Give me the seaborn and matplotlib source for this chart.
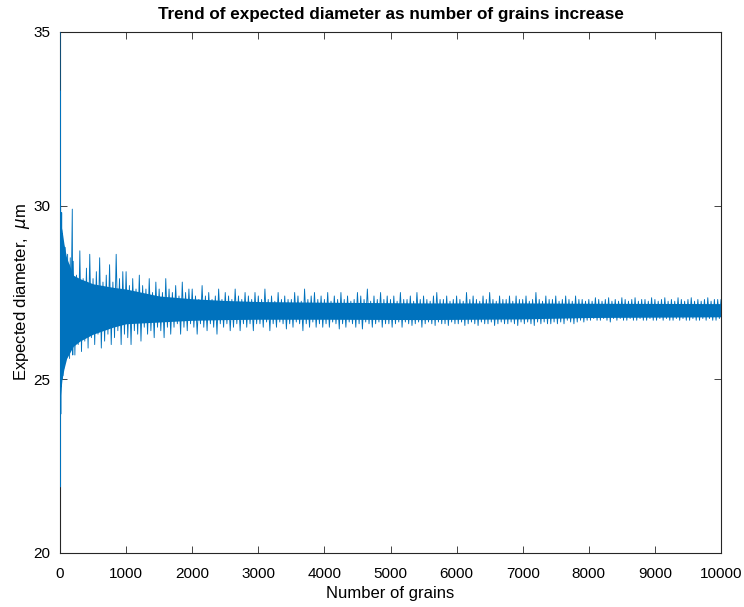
import numpy as np
import pandas as pd
import matplotlib
matplotlib.use("Agg")
import matplotlib.pyplot as plt
import seaborn as sns

# ---------------- data ----------------
# first ~200 grains: explicit oscillation (grains, expected diameter)
start_grains = [1, 2, 4, 6, 9, 12, 16, 20, 25, 30, 36, 42, 48, 55, 62, 70,
                78, 86, 95, 105, 115, 125, 135, 145, 155, 165, 175, 186, 193]
start_diam = [36.0, 21.9, 33.3, 22.4, 30.0, 24.0, 29.6, 24.8, 29.8, 25.0,
              29.2, 25.1, 28.9, 25.3, 28.6, 25.5, 28.8, 25.6, 28.4, 25.7,
              28.6, 25.8, 28.3, 25.6, 28.5, 25.9, 28.2, 29.9, 25.7]

# upper excursions at grains 200, 250, ..., 10000
hi_grains = list(range(200, 10001, 50))
hi_diam = [
    28.4, 28.0, 28.7, 27.9, 28.2, 28.6, 27.9, 28.1, 28.5, 27.8, 28.0, 28.3, 27.8, 28.6, 27.9, 28.1,
    28.1, 27.7, 27.9, 27.6, 28.0, 27.7, 27.6, 27.9, 27.5, 27.8, 27.6, 27.5, 27.9, 27.6, 27.5, 27.7, 27.4, 27.8, 27.5, 27.6,
    27.6, 27.4, 27.3, 27.7, 27.4, 27.5, 27.3, 27.4, 27.6, 27.3, 27.5, 27.4, 27.3, 27.6, 27.4, 27.3, 27.5, 27.4, 27.3, 27.5,
    27.4, 27.3, 27.6, 27.3, 27.4, 27.25, 27.5, 27.3, 27.4, 27.3, 27.3, 27.5, 27.4, 27.25, 27.6, 27.3, 27.4, 27.5, 27.3, 27.4,
    27.3, 27.5, 27.25, 27.4, 27.3, 27.5, 27.3, 27.4, 27.25, 27.3, 27.5, 27.4, 27.3, 27.6, 27.25, 27.4, 27.3, 27.5, 27.3, 27.4,
    27.3, 27.4, 27.25, 27.5, 27.3, 27.3, 27.4, 27.25, 27.5, 27.3, 27.4, 27.3, 27.25, 27.4, 27.5, 27.3, 27.3, 27.4, 27.25, 27.3,
    27.4, 27.3, 27.25, 27.5, 27.3, 27.4, 27.3, 27.25, 27.4, 27.3, 27.5, 27.3, 27.25, 27.4, 27.3, 27.3, 27.4, 27.25, 27.4, 27.3,
    27.3, 27.4, 27.25, 27.3, 27.5, 27.3, 27.25, 27.4, 27.3, 27.3, 27.4, 27.25, 27.3, 27.4, 27.3, 27.25, 27.4, 27.3, 27.3, 27.25,
    27.3, 27.25, 27.35, 27.3, 27.25, 27.3, 27.35, 27.25, 27.3, 27.25, 27.35, 27.3, 27.25, 27.3, 27.35, 27.25, 27.3, 27.3, 27.25, 27.35,
    27.3, 27.25, 27.3, 27.35, 27.25, 27.3, 27.25, 27.35, 27.3, 27.25, 27.3, 27.35, 27.25, 27.3, 27.25, 27.3, 27.35, 27.25, 27.3, 27.3, 27.3,
]

# lower excursions at grains 225, 275, ..., 9975
lo_grains = list(range(225, 10000, 50))
lo_diam = [
    25.7, 26.0, 25.8, 26.1, 25.9, 26.2, 26.0, 26.3, 25.9, 26.1, 26.3, 26.0, 26.2, 26.4, 26.0, 26.3,
    26.2, 26.0, 26.4, 26.3, 26.1, 26.5, 26.3, 26.4, 26.2, 26.5, 26.4, 26.2, 26.5, 26.3, 26.5, 26.6, 26.3, 26.5, 26.4, 26.6,
    26.5, 26.3, 26.6, 26.5, 26.4, 26.6, 26.5, 26.3, 26.6, 26.5, 26.6, 26.4, 26.5, 26.6, 26.4, 26.6, 26.5, 26.6, 26.4, 26.6,
    26.6, 26.5, 26.65, 26.4, 26.6, 26.5, 26.65, 26.6, 26.45, 26.6, 26.5, 26.65, 26.6, 26.4, 26.6, 26.5, 26.65, 26.5, 26.6, 26.5,
    26.6, 26.5, 26.65, 26.6, 26.45, 26.6, 26.5, 26.65, 26.6, 26.5, 26.6, 26.45, 26.65, 26.6, 26.5, 26.6, 26.65, 26.5, 26.6, 26.6,
    26.5, 26.6, 26.65, 26.5, 26.65, 26.6, 26.55, 26.6, 26.65, 26.5, 26.6, 26.65, 26.6, 26.55, 26.65, 26.6, 26.6, 26.55, 26.65, 26.6,
    26.6, 26.65, 26.55, 26.6, 26.65, 26.6, 26.55, 26.65, 26.6, 26.6, 26.65, 26.55, 26.6, 26.65, 26.6, 26.6, 26.65, 26.6, 26.55, 26.65,
    26.6, 26.65, 26.6, 26.55, 26.65, 26.6, 26.65, 26.6, 26.6, 26.65, 26.6, 26.65, 26.6, 26.7, 26.65, 26.6, 26.65, 26.7, 26.65, 26.7,
    26.7, 26.75, 26.7, 26.7, 26.75, 26.7, 26.65, 26.75, 26.7, 26.75, 26.7, 26.7, 26.75, 26.7, 26.7, 26.75, 26.7, 26.7, 26.75, 26.7,
    26.7, 26.75, 26.7, 26.75, 26.7, 26.7, 26.75, 26.7, 26.75, 26.7, 26.7, 26.75, 26.7, 26.7, 26.75, 26.7, 26.75, 26.7, 26.7, 26.75,
]

# dense core of the band (where the trace is solid)
core_grains = [5, 30, 60, 100, 200, 300, 500, 800, 1000, 1500, 2000, 2500,
               3000, 4000, 5500, 7000, 8000, 10000]
core_top = [29.5, 29.3, 28.9, 28.5, 28.0, 27.9, 27.75, 27.65, 27.6, 27.4,
            27.32, 27.27, 27.24, 27.22, 27.2, 27.2, 27.19, 27.18]
core_bot = [24.5, 25.0, 25.3, 25.6, 25.95, 26.1, 26.3, 26.5, 26.6, 26.65,
            26.7, 26.72, 26.73, 26.73, 26.72, 26.74, 26.78, 26.8]

x_ticks = list(range(0, 10001, 1000))
y_ticks = [20, 25, 30, 35]

# ---------------- assemble the series ----------------
seq_g = list(start_grains)
seq_d = list(start_diam)
for i in range(len(lo_grains)):
    seq_g += [hi_grains[i], lo_grains[i]]
    seq_d += [hi_diam[i], lo_diam[i]]
seq_g.append(hi_grains[-1])
seq_d.append(hi_diam[-1])
df = pd.DataFrame({"grains": seq_g, "diam": seq_d})

# ---------------- plot ----------------
sns.set_style("white")
plt.rcParams["font.family"] = ["Liberation Sans", "DejaVu Sans"]
plt.rcParams["mathtext.fontset"] = "dejavusans"
plt.rcParams["text.color"] = "black"
plt.rcParams["axes.labelcolor"] = "black"

color = "#0072BD"
fig = plt.figure(figsize=(7.44, 6.07), dpi=100)
ax = fig.add_axes([60 / 744, 1 - 553 / 607, 661 / 744, 521 / 607])

ax.fill_between(core_grains, core_bot, core_top, color=color, lw=0, zorder=2)
sns.lineplot(data=df, x="grains", y="diam", sort=False, estimator=None,
             color=color, lw=0.65, ax=ax, zorder=3)

ax.set_xlim(0, 10000)
ax.set_ylim(20, 35)
ax.set_xticks(x_ticks)
ax.set_yticks(y_ticks)
ax.tick_params(direction="in", length=5, width=0.6, colors="#262626",
               labelsize=11, top=True, right=True, bottom=True, left=True,
               pad=7)
ax.tick_params(axis="x", pad=10)
for tl in ax.get_xticklabels() + ax.get_yticklabels():
    tl.set_color("black")
for s in ax.spines.values():
    s.set_visible(True)
    s.set_color("#262626")
    s.set_linewidth(0.8)

ax.set_xlabel("Number of grains", fontsize=12, labelpad=4, color="black")
ax.set_ylabel(r"Expected diameter,  $\mu$m", fontsize=12, labelpad=1,
              color="black")
ax.set_title("Trend of expected diameter as number of grains increase",
             fontsize=12.3, fontweight="bold", pad=9, color="black")

fig.savefig("out.png", dpi=100, facecolor="white")
